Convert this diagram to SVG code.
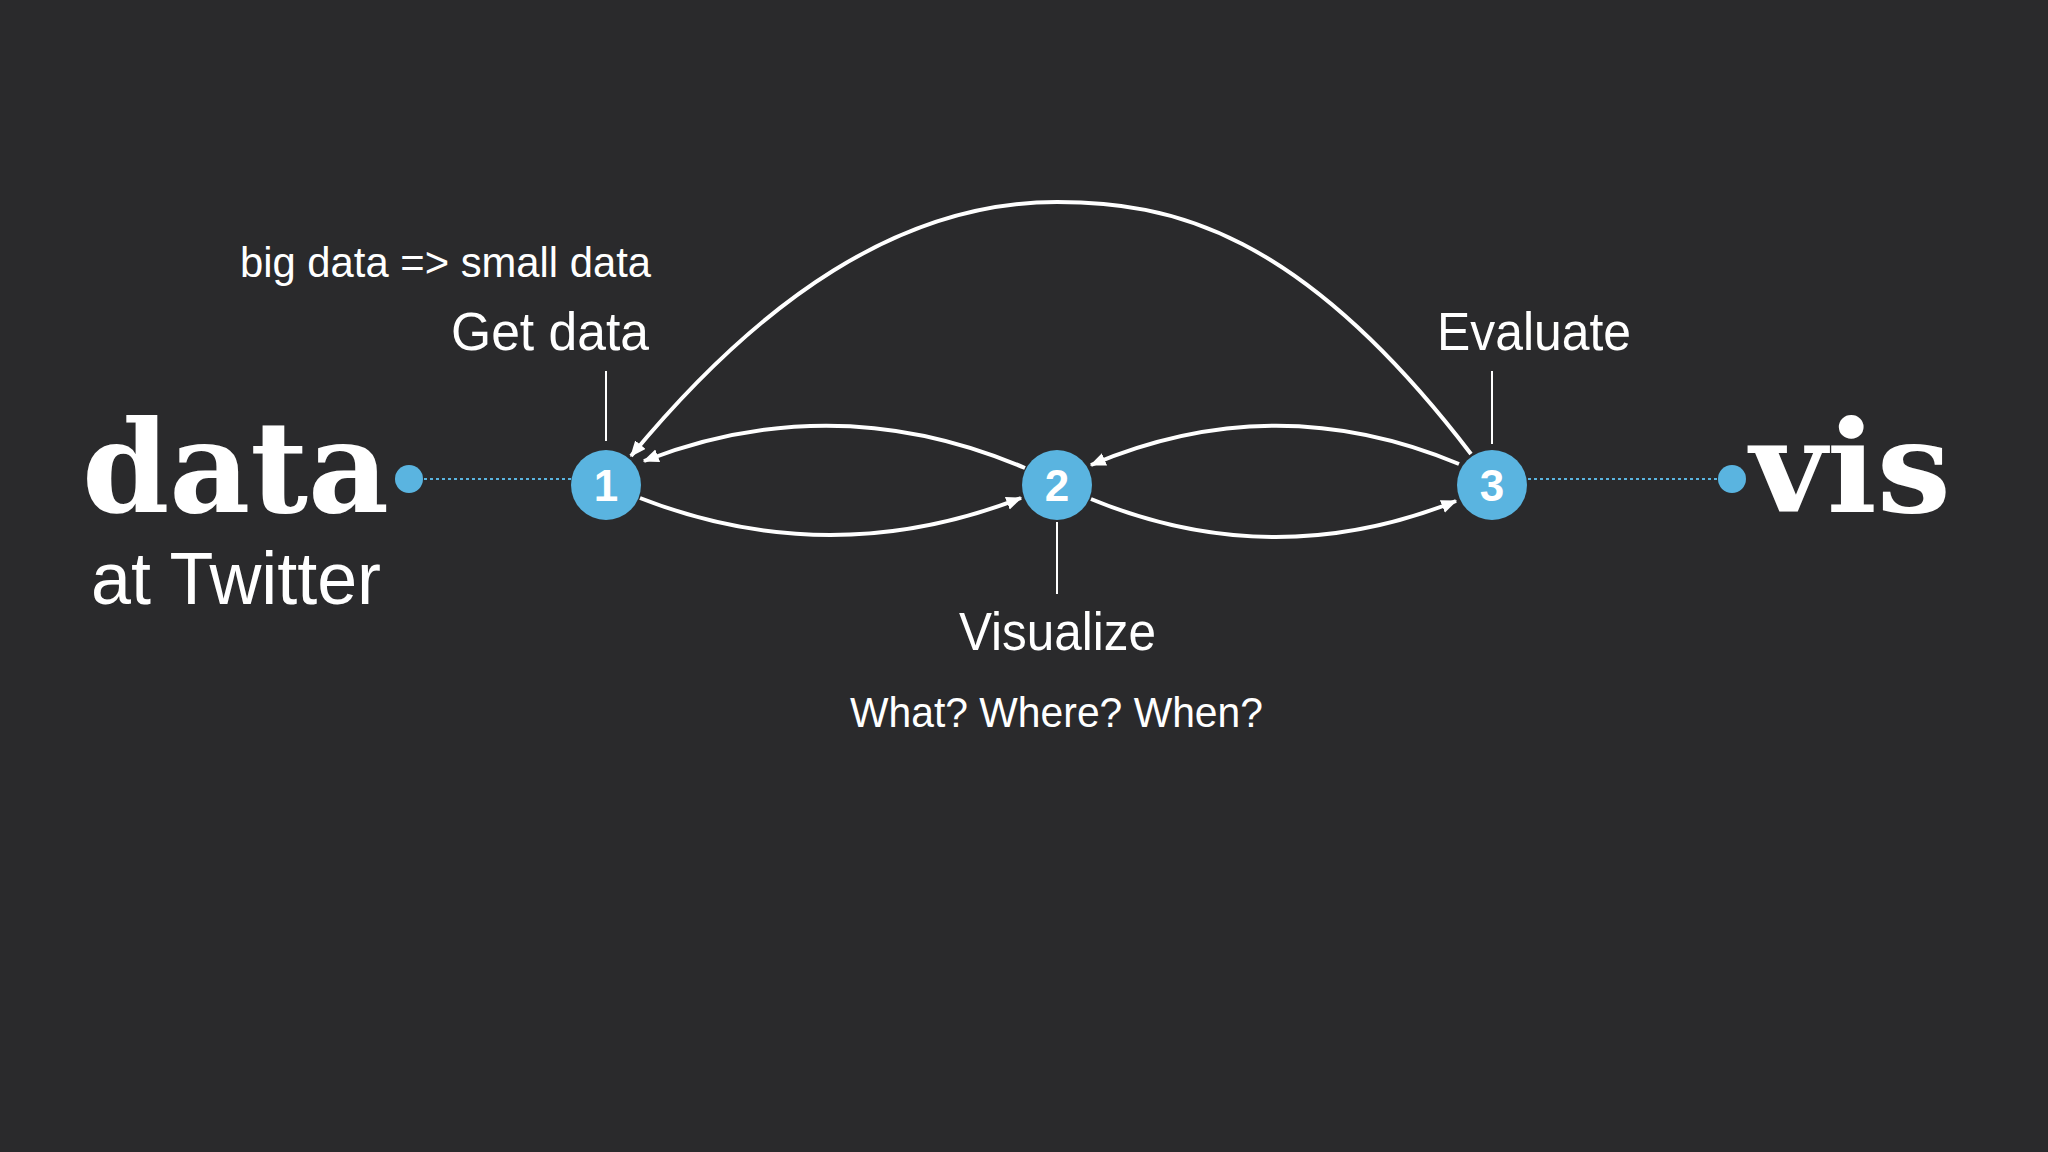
<svg xmlns="http://www.w3.org/2000/svg" width="2048" height="1152" viewBox="0 0 2048 1152">
<defs>
<style>
.t{fill:#fff;font-family:"Liberation Sans",Arial,sans-serif}
.c{fill:none;stroke:#fff;stroke-width:4}
.tk{stroke:#fff;stroke-width:2}
.dot{stroke:#5ab4e0;stroke-width:2;stroke-dasharray:3 3}
.n{fill:#5ab4e0}
.num{fill:#fff;font-family:"Liberation Sans",Arial,sans-serif;font-weight:bold;font-size:44px;text-anchor:middle}
.big{fill:#fff;font-family:"DejaVu Serif",serif;font-weight:bold;font-size:128px}
</style>
<marker id="a" viewBox="0 0 12 10" refX="11" refY="5" markerWidth="16" markerHeight="14" markerUnits="userSpaceOnUse" orient="auto"><path d="M0,0 L12,5 L0,10 z" fill="#fff"/></marker>
</defs>
<rect width="2048" height="1152" fill="#2a2a2c"/>
<g id="left">
<text class="big" x="82" y="512" textLength="307" lengthAdjust="spacingAndGlyphs">data</text>
<text class="t" x="91" y="604" font-size="74" textLength="290" lengthAdjust="spacingAndGlyphs">at Twitter</text>
<circle class="n" cx="409" cy="479" r="14"/>
</g>
<g id="right">
<text class="big" x="1750" y="512" textLength="201" lengthAdjust="spacingAndGlyphs">vis</text>
<circle class="n" cx="1732" cy="479" r="14"/>
</g>
<g id="connectors">
<line class="dot" x1="424" y1="479" x2="571" y2="479"/>
<line class="dot" x1="1528" y1="479" x2="1717" y2="479"/>
<line class="tk" x1="606" y1="371" x2="606" y2="441"/>
<line class="tk" x1="1492" y1="371" x2="1492" y2="444"/>
<line class="tk" x1="1057" y1="522" x2="1057" y2="594"/>
<path class="c" d="M640,498 Q830,572 1021,498" marker-end="url(#a)"/>
<path class="c" d="M1025,468 Q835,387 644,461" marker-end="url(#a)"/>
<path class="c" d="M1091,499 Q1273,574 1456,501" marker-end="url(#a)"/>
<path class="c" d="M1459,464 Q1275,387 1091,465" marker-end="url(#a)"/>
<path class="c" d="M1471,454 C1300,230 1170,202 1057,202 C900,202 760,300 631,456" marker-end="url(#a)"/>
</g>
<g id="node1"><circle class="n" cx="606" cy="485" r="35"/><text class="num" x="606" y="501">1</text>
<text class="t" x="240" y="277" font-size="42" textLength="411" lengthAdjust="spacingAndGlyphs">big data =&gt; small data</text>
<text class="t" x="451" y="350" font-size="54" textLength="198" lengthAdjust="spacingAndGlyphs">Get data</text></g>
<g id="node2"><circle class="n" cx="1057" cy="485" r="35"/><text class="num" x="1057" y="501">2</text>
<text class="t" x="959" y="650" font-size="54" textLength="197" lengthAdjust="spacingAndGlyphs">Visualize</text>
<text class="t" x="850" y="727" font-size="42" textLength="413" lengthAdjust="spacingAndGlyphs">What? Where? When?</text></g>
<g id="node3"><circle class="n" cx="1492" cy="485" r="35"/><text class="num" x="1492" y="501">3</text>
<text class="t" x="1437" y="350" font-size="54" textLength="194" lengthAdjust="spacingAndGlyphs">Evaluate</text></g>
</svg>
